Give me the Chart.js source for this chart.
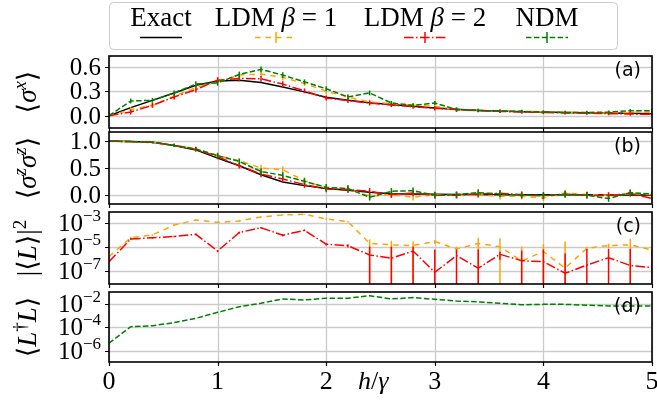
<!DOCTYPE html>
<html>
<head>
<meta charset="utf-8">
<script src="https://cdn.jsdelivr.net/npm/chart.js@4.4.1/dist/chart.umd.min.js"></script>
<style>
  html, body { margin: 0; padding: 0; background: #fff; }
  #fig { position: relative; width: 657px; height: 403px; overflow: hidden; background: #fff; }
  #fig canvas { position: absolute; left: 0; }
</style>
</head>
<body>
<div id="fig">
  <canvas id="pa" width="657" height="132" style="top:0px"></canvas>
  <canvas id="pb" width="657" height="88" style="top:120px"></canvas>
  <canvas id="pc" width="657" height="88" style="top:200px"></canvas>
  <canvas id="pd" width="657" height="123" style="top:280px"></canvas>
</div>
<script>
// field values h/gamma
const h = [0, 0.2, 0.4, 0.6, 0.8, 1.0, 1.2, 1.4, 1.6, 1.8, 2.0, 2.2, 2.4, 2.6, 2.8, 3.0, 3.2, 3.4, 3.6, 3.8, 4.0, 4.2, 4.4, 4.6, 4.8, 5.0];

// (a) <sigma^x>
const sxExact = [0, 0.099, 0.188, 0.279, 0.374, 0.424, 0.436, 0.408, 0.353, 0.292, 0.225, 0.189, 0.160, 0.136, 0.115, 0.094, 0.078, 0.065, 0.057, 0.049, 0.044, 0.040, 0.036, 0.033, 0.030, 0.025];
const sxLdm1 = [0, 0.074, 0.127, 0.238, 0.346, 0.415, 0.498, 0.510, 0.470, 0.395, 0.300, 0.230, 0.168, 0.148, 0.127, 0.115, 0.074, 0.065, 0.057, 0.053, 0.049, 0.040, 0.036, 0.032, 0.040, 0.044];
const sxLdm2 = [0, 0.045, 0.127, 0.230, 0.320, 0.436, 0.457, 0.452, 0.387, 0.304, 0.217, 0.185, 0.155, 0.130, 0.110, 0.090, 0.075, 0.062, 0.052, 0.045, 0.040, 0.034, 0.030, 0.025, 0.020, 0.016];
const sxNdm  = [0, 0.180, 0.189, 0.279, 0.387, 0.403, 0.506, 0.568, 0.498, 0.415, 0.330, 0.230, 0.279, 0.156, 0.127, 0.156, 0.074, 0.065, 0.057, 0.053, 0.044, 0.040, 0.040, 0.044, 0.062, 0.062];
const sxErr  = [0, 0.03, 0.03, 0.03, 0.035, 0.035, 0.035, 0.035, 0.035, 0.03, 0.03, 0.03, 0.03, 0.025, 0.025, 0.025, 0.025, 0.02, 0.02, 0.02, 0.02, 0.02, 0.02, 0.02, 0.02, 0.02];

// (b) <sigma^z sigma^z>
const zzExact = [1.0, 0.990, 0.978, 0.916, 0.837, 0.685, 0.544, 0.379, 0.245, 0.178, 0.123, 0.093, 0.055, 0.030, 0.024, 0.018, 0.014, 0.012, 0.011, 0.010, 0.009, 0.008, 0.008, 0.007, 0.007, 0.006];
const zzLdm1 = [1.0, 0.990, 0.980, 0.920, 0.855, 0.733, 0.636, 0.502, 0.471, 0.269, 0.135, 0.120, -0.018, 0.012, -0.037, 0.012, 0.0, 0.012, -0.018, -0.018, -0.049, 0.043, 0.012, 0.0, 0.030, 0.012];
const zzLdm2 = [1.0, 0.990, 0.975, 0.920, 0.845, 0.714, 0.544, 0.392, 0.300, 0.196, 0.117, 0.104, 0.073, 0.012, 0.043, 0.0, 0.0, 0.024, 0.037, 0.012, -0.012, 0.024, 0.0, -0.006, 0.037, -0.060];
const zzNdm  = [1.0, 0.990, 0.980, 0.920, 0.855, 0.733, 0.623, 0.440, 0.366, 0.256, 0.147, 0.123, -0.037, 0.073, 0.085, 0.0, 0.012, 0.049, 0.024, 0.0, 0.0, 0.012, 0.0, -0.061, 0.049, 0.024];
const zzErr  = [0, 0.01, 0.02, 0.03, 0.04, 0.05, 0.05, 0.06, 0.06, 0.06, 0.06, 0.06, 0.06, 0.06, 0.06, 0.06, 0.06, 0.06, 0.06, 0.06, 0.06, 0.06, 0.06, 0.06, 0.06, 0.06];

// (c) |<L>|^2
const l2Ldm1 = [1.66e-6, 6.3e-5, 1.07e-4, 7.2e-4, 1.9e-3, 1.2e-3, 1.55e-3, 3.4e-3, 4.9e-3, 5.6e-3, 2.3e-3, 1.35e-3, 2.1e-5, 1.6e-5, 1.4e-5, 3.0e-5, 7.2e-6, 2.1e-5, 1.1e-5, 7.2e-7, 4.4e-6, 1.8e-7, 8.3e-6, 1.4e-5, 1.6e-5, 6.0e-6];
const l2Ldm2 = [6.3e-7, 4.9e-5, 6.2e-5, 7.9e-5, 1.2e-4, 4.9e-6, 1.7e-4, 4.3e-4, 1.0e-4, 2.6e-4, 1.8e-5, 1.35e-5, 2.3e-6, 1.2e-6, 4.9e-6, 8.3e-8, 2.0e-6, 1.8e-7, 2.6e-6, 7.6e-7, 6.3e-7, 6.8e-8, 3.3e-7, 1.35e-6, 3.0e-7, 2.0e-7];
const l2ErrLdm1 = [3e-7, 1e-5, 1.5e-5, 1e-4, 2e-4, 1.5e-4, 2e-4, 3e-4, 4e-4, 5e-4, 3e-4, 2e-4, 2.4e-5, 1.9e-5, 1.7e-5, 1.1e-5, 4e-6, 4.2e-5, 4.5e-5, 1.1e-5, 1.4e-5, 2.95e-5, 3e-6, 6e-6, 3.4e-5, 4e-6];
const l2ErrLdm2 = [1e-7, 8e-6, 1e-5, 1.2e-5, 2e-5, 1e-6, 3e-5, 6e-5, 2e-5, 4e-5, 4e-6, 4e-6, 9e-6, 1e-5, 6e-6, 6.3e-6, 4.5e-6, 6.3e-6, 1.7e-6, 4.5e-6, 6e-6, 3e-6, 7e-6, 6e-6, 7e-6, 6e-6];

// (d) <L^dagger L>
const ldNdm = [4.6e-6, 1.17e-4, 1.4e-4, 2.6e-4, 6.0e-4, 1.95e-3, 5.9e-3, 1.15e-2, 2.7e-2, 2.2e-2, 3.1e-2, 3.1e-2, 5.1e-2, 2.7e-2, 3.5e-2, 2.5e-2, 1.8e-2, 1.5e-2, 1.15e-2, 8.7e-3, 9.3e-3, 9.3e-3, 7.8e-3, 6.8e-3, 6.8e-3, 6.8e-3];

// tick positions
const xTicks = [0, 1, 2, 3, 4, 5];
const sxTicks = [0, 0.3, 0.6];
const zzTicks = [0, 0.5, 1.0];
const l2Ticks = [1e-7, 1e-5, 1e-3];
const ldTicks = [1e-6, 1e-4, 1e-2];

const SERIF = '"Liberation Serif", "DejaVu Serif", serif';
const SANS = '"DejaVu Sans", sans-serif';
const GRID = '#cbcbcb';
const COLORS = { exact: '#000000', ldm1: '#ffa500', ldm2: '#ff0000', ndm: '#008000' };
const DASHES = { exact: [], ldm1: [5.5, 5], ldm2: [9.6, 2.4, 1.5, 2.4], ndm: [5.5, 2.4] };
// matplotlib stacking: later series on top (lower order = drawn last in Chart.js)
const ORDER = { exact: 3, ldm1: 2, ldm2: 1, ndm: 0 };

// runs of [text, style] where style is r (roman), i (italic), s / si (superscript)
function runFont(style, size) {
  const sup = style.startsWith('s');
  const sz = sup ? Math.round(size * 0.7) : size;
  return (style.endsWith('i') ? 'italic ' : '') + sz + 'px ' + SERIF;
}
function runWidth(ctx, runs, size) {
  let w = 0;
  runs.forEach(r => { ctx.font = runFont(r[1], size); w += ctx.measureText(r[0]).width; });
  return w;
}
function drawRuns(ctx, runs, x, y, size) {
  runs.forEach(r => {
    ctx.font = runFont(r[1], size);
    const up = r[1].startsWith('s') ? size * 0.38 : 0;
    ctx.fillText(r[0], x, y - up);
    x += ctx.measureText(r[0]).width;
  });
}

function pts(ys) { return h.map((x, i) => ({ x: x, y: ys[i] })); }

function series(key, label, ys, errs) {
  return {
    label: label, data: pts(ys), errors: errs || null, order: ORDER[key],
    borderColor: COLORS[key], backgroundColor: COLORS[key], borderDash: DASHES[key],
    borderWidth: 1.5, pointRadius: 0, tension: 0, fill: false
  };
}

// tick labels are drawn by the panel plugin, so the axes only reserve space
function xAxis(bottom) {
  return {
    type: 'linear', min: 0, max: 5,
    afterBuildTicks: s => { s.ticks = xTicks.map(v => ({ value: v })); },
    afterFit: s => { s.height = bottom ? 41 : 4; },
    grid: { display: false },
    border: { display: false },
    ticks: { display: false }
  };
}

function yAxis(type, min, max, tickVals) {
  return {
    type: type, min: min, max: max,
    afterBuildTicks: s => { s.ticks = tickVals.map(v => ({ value: v })); },
    afterFit: s => { s.width = 109; },
    grid: { display: false },
    border: { display: false },
    ticks: { display: false }
  };
}

// grid lines and outward tick marks
const gridLines = {
  id: 'gridLines',
  beforeDatasetsDraw(chart) {
    const { ctx, chartArea: a, scales: { x, y } } = chart;
    const xs = x.ticks.map(t => Math.round(x.getPixelForValue(t.value)) + 0.5);
    const ys = y.ticks.map(t => Math.round(y.getPixelForValue(t.value)) + 0.5);
    ctx.save();
    ctx.strokeStyle = GRID;
    ctx.lineWidth = 1.3;
    ctx.beginPath();
    xs.forEach(px => { ctx.moveTo(px, a.top); ctx.lineTo(px, a.bottom); });
    ys.forEach(py => { ctx.moveTo(a.left, py); ctx.lineTo(a.right, py); });
    ctx.stroke();
    ctx.strokeStyle = '#000';
    ctx.lineWidth = 1.2;
    ctx.beginPath();
    xs.forEach(px => { ctx.moveTo(px, a.bottom); ctx.lineTo(px, a.bottom + 4); });
    ys.forEach(py => { ctx.moveTo(a.left - 4, py); ctx.lineTo(a.left, py); });
    ctx.stroke();
    ctx.restore();
  }
};

// error bars drawn right after each line, clipped to the plot box
const errorBars = {
  id: 'errorBars',
  afterDatasetDraw(chart, args) {
    const ds = chart.data.datasets[args.index];
    if (!ds.errors) return;
    const { ctx, chartArea: a, scales: { x, y } } = chart;
    ctx.save();
    ctx.beginPath();
    ctx.rect(a.left, a.top, a.right - a.left, a.bottom - a.top);
    ctx.clip();
    ctx.strokeStyle = ds.borderColor;
    ctx.lineWidth = 1.5;
    ds.data.forEach((p, i) => {
      const e = ds.errors[i];
      if (!e) return;
      const px = x.getPixelForValue(p.x);
      const lo = p.y - e;
      const y0 = (y.type === 'logarithmic' && lo <= 0) ? a.bottom + 2 : y.getPixelForValue(lo);
      const y1 = y.getPixelForValue(p.y + e);
      ctx.beginPath();
      ctx.moveTo(px, y0);
      ctx.lineTo(px, y1);
      ctx.stroke();
    });
    ctx.restore();
  }
};

const LEGEND = [
  { key: 'exact', runs: [['Exact', 'r']], cx: 161, err: false },
  { key: 'ldm1', runs: [['LDM ', 'r'], ['β', 'i'], [' = 1', 'r']], cx: 276, err: true },
  { key: 'ldm2', runs: [['LDM ', 'r'], ['β', 'i'], [' = 2', 'r']], cx: 425, err: true },
  { key: 'ndm', runs: [['NDM', 'r']], cx: 547, err: true }
];

function drawLegend(ctx) {
  ctx.save();
  ctx.fillStyle = '#fff';
  ctx.strokeStyle = '#cccccc';
  ctx.lineWidth = 1;
  ctx.beginPath();
  ctx.roundRect(109.5, 2.5, 508, 47, 4);
  ctx.fill();
  ctx.stroke();
  ctx.textAlign = 'left';
  ctx.textBaseline = 'alphabetic';
  LEGEND.forEach(it => {
    ctx.fillStyle = '#000';
    drawRuns(ctx, it.runs, it.cx - runWidth(ctx, it.runs, 27) / 2, 26, 27);
    ctx.strokeStyle = COLORS[it.key];
    ctx.lineWidth = 1.5;
    ctx.setLineDash(DASHES[it.key]);
    ctx.beginPath();
    ctx.moveTo(it.cx - 21, 37.5);
    ctx.lineTo(it.cx + 21, 37.5);
    ctx.stroke();
    ctx.setLineDash([]);
    if (it.err) {
      ctx.beginPath();
      ctx.moveTo(it.cx, 32);
      ctx.lineTo(it.cx, 43);
      ctx.stroke();
    }
  });
  ctx.restore();
}

function panelPlugin(cfg) {
  return {
    id: 'panel',
    afterDraw(chart) {
      const { ctx, chartArea: a, scales: { x, y } } = chart;
      ctx.save();
      ctx.strokeStyle = '#000';
      ctx.lineWidth = 1.6;
      ctx.strokeRect(a.left, a.top, a.right - a.left, a.bottom - a.top);

      ctx.fillStyle = '#000';
      ctx.font = `19px ${SANS}`;
      ctx.textAlign = 'right';
      ctx.textBaseline = 'middle';
      ctx.fillText(cfg.letter, a.right - 11, a.top + 15);

      ctx.textBaseline = 'alphabetic';
      y.ticks.forEach(t => {
        const py = y.getPixelForValue(t.value);
        if (y.type === 'logarithmic') {
          const ex = Math.round(Math.log10(t.value));
          const sup = (ex < 0 ? '\u2212' : '') + Math.abs(ex);
          ctx.textAlign = 'left';
          ctx.font = `25px ${SERIF}`;
          const w10 = ctx.measureText('10').width;
          ctx.font = `17px ${SERIF}`;
          const ws = ctx.measureText(sup).width;
          ctx.fillText(sup, 101 - ws, py - 2);
          ctx.font = `25px ${SERIF}`;
          ctx.fillText('10', 101 - ws - w10, py + 8);
        } else {
          ctx.textAlign = 'right';
          ctx.font = `25px ${SERIF}`;
          ctx.fillText(t.value.toFixed(1), 101, py + 8);
        }
      });

      if (cfg.xLabels) {
        ctx.textAlign = 'center';
        ctx.font = `26px ${SERIF}`;
        x.ticks.forEach(t => ctx.fillText(String(t.value), x.getPixelForValue(t.value), a.bottom + 27));
        ctx.textAlign = 'left';
        drawRuns(ctx, [['h', 'i'], ['/', 'r'], ['γ', 'i']], 358, a.bottom + 27, 26);
      }

      ctx.textAlign = 'left';
      ctx.save();
      ctx.translate(36, (a.top + a.bottom) / 2);
      ctx.rotate(-Math.PI / 2);
      drawRuns(ctx, cfg.title, -runWidth(ctx, cfg.title, 27) / 2, 0, 27);
      ctx.restore();

      if (cfg.legend) drawLegend(ctx);
      ctx.restore();
    }
  };
}

function makeChart(id, padTop, bottom, yScale, datasets, cfg) {
  return new Chart(document.getElementById(id), {
    type: 'line',
    data: { datasets: datasets },
    options: {
      responsive: false,
      animation: false,
      events: [],
      layout: { autoPadding: false, padding: { top: padTop, right: 5, bottom: 0, left: 0 } },
      plugins: { legend: { display: false }, tooltip: { enabled: false } },
      scales: { x: xAxis(bottom), y: yScale }
    },
    plugins: [gridLines, errorBars, panelPlugin(cfg)]
  });
}

makeChart('pa', 56, false, yAxis('linear', -0.151, 0.732, sxTicks), [
  series('exact', 'Exact', sxExact),
  series('ldm1', 'LDM β = 1', sxLdm1, sxErr),
  series('ldm2', 'LDM β = 2', sxLdm2, sxErr),
  series('ndm', 'NDM', sxNdm, sxErr)
], { letter: '(a)', legend: true, title: [['⟨', 'r'], ['σ', 'i'], ['x', 'si'], ['⟩', 'r']] });

makeChart('pb', 12, false, yAxis('linear', -0.161, 1.167, zzTicks), [
  series('exact', 'Exact', zzExact),
  series('ldm1', 'LDM β = 1', zzLdm1, zzErr),
  series('ldm2', 'LDM β = 2', zzLdm2, zzErr),
  series('ndm', 'NDM', zzNdm, zzErr)
], { letter: '(b)', title: [['⟨', 'r'], ['σ', 'i'], ['z', 'si'], ['σ', 'i'], ['z', 'si'], ['⟩', 'r']] });

makeChart('pc', 12, false, yAxis('logarithmic', 8.7e-9, 8.7e-3, l2Ticks), [
  series('ldm1', 'LDM β = 1', l2Ldm1, l2ErrLdm1),
  series('ldm2', 'LDM β = 2', l2Ldm2, l2ErrLdm2)
], { letter: '(c)', title: [['|⟨', 'r'], ['L', 'i'], ['⟩|', 'r'], ['2', 's']] });

makeChart('pd', 12, true, yAxis('logarithmic', 1.15e-7, 0.105, ldTicks), [
  series('ndm', 'NDM', ldNdm)
], { letter: '(d)', xLabels: true, title: [['⟨', 'r'], ['L', 'i'], ['†', 's'], ['L', 'i'], ['⟩', 'r']] });
</script>
</body>
</html>
